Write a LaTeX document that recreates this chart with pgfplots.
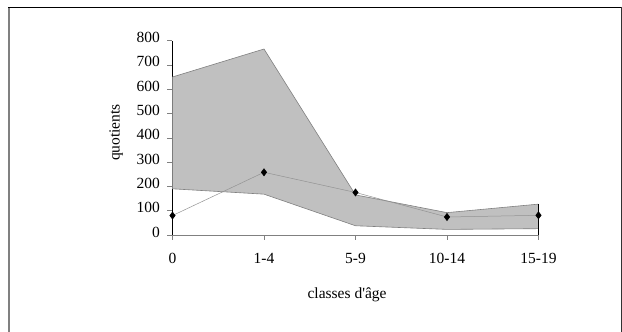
\documentclass[border=0pt]{standalone}
\usepackage{fontspec}
\setmainfont{Liberation Serif}
\usepackage{pgfplots}
\pgfplotsset{compat=1.18}
\definecolor{bandfill}{RGB}{192,192,192}
\definecolor{bandedge}{RGB}{128,128,128}
\begin{document}
\begin{tikzpicture}
\begin{axis}[
  at={(0pt,0pt)}, anchor=origin,
  scale only axis, width=366pt, height=194.5pt,
  xmin=0, xmax=4, ymin=0, ymax=800,
  axis x line=bottom, axis y line=left,
  axis line style={-},
  x axis line style={bandedge, line width=0.6pt},
  y axis line style={black, line width=0.8pt},
  xtick={0,1,2,3,4}, xticklabels={0,1-4,5-9,10-14,15-19},
  ytick={0,100,...,800},
  tick align=outside, major tick length=5pt,
  tick style={bandedge, line width=0.5pt},
  font=\fontsize{15.5}{18}\selectfont,
  /pgf/number format/assume math mode=true,
  yticklabel style={anchor=east, xshift=-4pt, yshift=3pt},
  xticklabel style={anchor=center, yshift=-18pt},
  xlabel={classes d\textquotesingle âge}, ylabel={quotients},
  every axis x label/.style={at={(axis description cs:0.477,-0.308)}, anchor=center},
  every axis y label/.style={at={(axis description cs:-0.154,0.527)}, anchor=center, rotate=90},
  clip=false,
]
\addplot[fill=bandfill, draw=none] coordinates {(0,650) (1,765) (2,165) (3,92) (4,127) (4,26) (3,23) (2,38) (1,168) (0,190)} -- cycle;
\addplot[bandedge, line width=0.6pt] coordinates {(0,650) (1,765) (2,165) (3,92) (4,127)};
\addplot[bandedge, line width=0.6pt] coordinates {(0,190) (1,168) (2,38) (3,23) (4,26)};
\addplot[black, line width=0.8pt] coordinates {(4,0) (4,127)};
\addplot[color=gray!85, line width=0.5pt, mark=diamond*, mark size=3.6pt, mark options={fill=black, draw=black, solid}] coordinates {(0,80) (1,258) (2,175) (3,74) (4,81)};
\end{axis}
\begin{scope}[x=1pt,y=1pt,shift={(-172.5pt,-97pt)}]
\useasboundingbox (0,0) rectangle (622,332);
\draw[bandedge,line width=1.6pt] (9,-2)--(9,324.8);
\draw[black,line width=0.9pt] (8.2,324.8)--(621,324.8);
\draw[black!80,line width=1pt] (621,325.2)--(621,-2);
\end{scope}
\end{tikzpicture}
\end{document}
